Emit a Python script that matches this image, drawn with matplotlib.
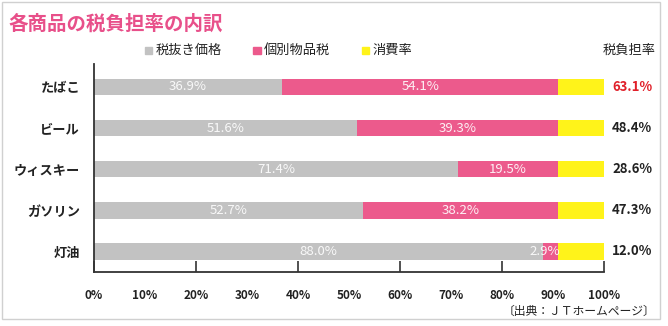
import matplotlib
matplotlib.use("Agg")
import matplotlib.pyplot as plt
from matplotlib.patches import Rectangle
import numpy as np

plt.rcParams['font.family'] = ['Noto Sans CJK JP', 'DejaVu Sans']

# データ
categories = ["たばこ", "ビール", "ウィスキー", "ガソリン", "灯油"]
base_price = [36.9, 51.6, 71.4, 52.7, 88.0]
excise_tax = [54.1, 39.3, 19.5, 38.2, 2.9]
consumption_tax = [9.0, 9.1, 9.1, 9.1, 9.1]
burden_rate = ["63.1%", "48.4%", "28.6%", "47.3%", "12.0%"]
series_names = ["税抜き価格", "個別物品税", "消費率"]

c_grey = "#c2c2c2"
c_pink = "#ec5a8c"
c_yellow = "#fff31a"

fig = plt.figure(figsize=(6.68, 3.26), dpi=100)
ax = fig.add_axes([0.1407, 0.1656, 0.7635, 0.6385])

y = np.arange(len(categories))
h = 0.40
ax.barh(y, base_price, height=h, color=c_grey)
ax.barh(y, excise_tax, height=h, left=base_price, color=c_pink)
left2 = np.array(base_price) + np.array(excise_tax)
ax.barh(y, consumption_tax, height=h, left=left2, color=c_yellow)

# バー内のラベル
for i in range(len(categories)):
    ax.text(base_price[i] / 2, y[i], f"{base_price[i]:.1f}%", ha="center", va="center",
            color="white", fontsize=9.5, alpha=0.9)
    if excise_tax[i] > 5:
        xc = base_price[i] + excise_tax[i] / 2
    else:
        xc = base_price[i] + excise_tax[i] / 2 - 1.0
    ax.text(xc, y[i], f"{excise_tax[i]:.1f}%", ha="center", va="center",
            color="white", fontsize=9.5, alpha=0.9)
    ax.text(101.6, y[i], burden_rate[i], ha="left", va="center",
            fontsize=9.5, fontweight="bold",
            color="#e0202a" if i == 0 else "#222222")

ax.set_xlim(0, 100)
ax.set_ylim(4.5, -0.56)
ax.set_yticks(y)
ax.set_yticklabels(categories, fontsize=9.5, fontweight="bold", color="#222222")
ax.tick_params(axis="y", length=0, pad=10)

ax.set_xticks([0, 20, 40, 60, 80, 100])
ax.set_xticklabels([f"{v}%" for v in [0, 20, 40, 60, 80, 100]])
ax.set_xticks([10, 30, 50, 70, 90], minor=True)
ax.set_xticklabels([f"{v}%" for v in [10, 30, 50, 70, 90]], minor=True)
ax.tick_params(axis="x", which="major", direction="in", length=8, width=1.2,
               color="#333333", pad=12, labelsize=8.5, labelcolor="#222222")
ax.tick_params(axis="x", which="minor", length=0, pad=12, labelsize=8.5,
               labelcolor="#222222")
for lbl in ax.get_xticklabels(which="both"):
    lbl.set_fontweight("bold")

for s in ["top", "right"]:
    ax.spines[s].set_visible(False)
for s in ["left", "bottom"]:
    ax.spines[s].set_linewidth(1.3)
    ax.spines[s].set_color("#333333")

# タイトル
fig.text(0.012, 0.925, "各商品の税負担率の内訳", fontsize=14, fontweight="bold",
         color="#e8508a", va="center", ha="left")

# 凡例
leg_x = [0.217, 0.379, 0.542]
for xx, name, col in zip(leg_x, series_names, [c_grey, c_pink, c_yellow]):
    fig.patches.append(Rectangle((xx, 0.835), 0.011, 0.022, transform=fig.transFigure,
                                 color=col, figure=fig))
    fig.text(xx + 0.016, 0.846, name, fontsize=9.5, va="center", ha="left", color="#222222")
fig.text(0.981, 0.846, "税負担率", fontsize=9.5, va="center", ha="right", color="#222222")

# 出典
fig.text(0.981, 0.046, "〔出典：ＪＴホームページ〕", fontsize=8.5, va="center", ha="right",
         color="#222222")

# 枠線
fig.patches.append(Rectangle((0.003, 0.02), 0.985, 0.975, transform=fig.transFigure,
                             fill=False, edgecolor="#d0d0d0", linewidth=1.0, figure=fig))

fig.savefig("out.png", dpi=100)
